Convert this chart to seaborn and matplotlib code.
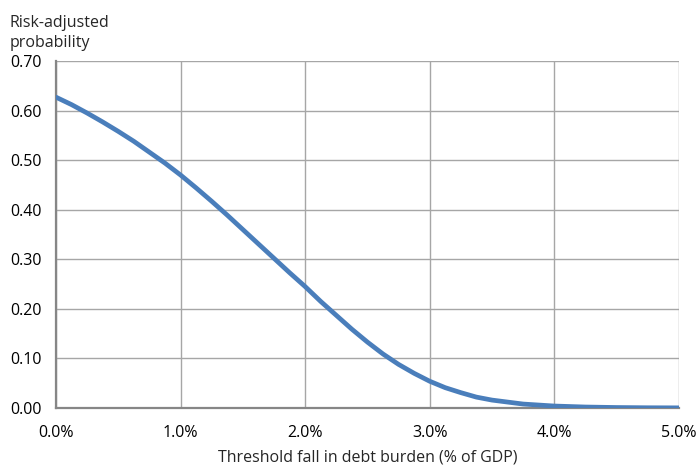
import numpy as np
import pandas as pd
import seaborn as sns
from matplotlib import pyplot as plt
from matplotlib.ticker import FuncFormatter

# threshold fall in debt burden (% of GDP) and risk-adjusted probability
threshold = [0.000, 0.125, 0.250, 0.375, 0.500, 0.625, 0.750, 0.875, 1.000,
             1.125, 1.250, 1.375, 1.500, 1.625, 1.750, 1.875, 2.000,
             2.125, 2.250, 2.375, 2.500, 2.625, 2.750, 2.875, 3.000,
             3.125, 3.250, 3.375, 3.500, 3.750, 4.000, 4.250, 4.500, 4.750, 5.000]
probability = [0.627, 0.612, 0.595, 0.577, 0.558, 0.538, 0.516, 0.494, 0.470,
               0.444, 0.417, 0.389, 0.360, 0.331, 0.302, 0.273, 0.245,
               0.215, 0.187, 0.159, 0.133, 0.109, 0.088, 0.070, 0.054,
               0.041, 0.031, 0.022, 0.016, 0.008, 0.004, 0.002, 0.001, 0.0005, 0.0003]
x_ticks = [0, 1, 2, 3, 4, 5]
y_ticks = [0.0, 0.1, 0.2, 0.3, 0.4, 0.5, 0.6, 0.7]

df = pd.DataFrame({'threshold': threshold, 'probability': probability})

sns.set_style('white')
plt.rcParams['font.family'] = ['Open Sans', 'DejaVu Sans']

fig = plt.figure(figsize=(6.97, 4.67), dpi=100)
ax = fig.add_axes([0.0803, 0.1263, 0.8937, 0.7431])

sns.lineplot(data=df, x='threshold', y='probability', ax=ax,
             color='#4a7ebb', linewidth=3.4, zorder=3)
ax.lines[0].set_solid_joinstyle('round')

ax.set_xlim(0, 5)
ax.set_ylim(0, 0.7)
ax.set_xticks(x_ticks)
ax.set_yticks(y_ticks)
ax.xaxis.set_major_formatter(FuncFormatter(lambda v, _: f'{v:.1f}%'))
ax.yaxis.set_major_formatter(FuncFormatter(lambda v, _: f'{v:.2f}'))

ax.grid(True, color='#a6a6a6', linewidth=1.0)
ax.set_axisbelow(True)
for side in ['top', 'right']:
    ax.spines[side].set_visible(False)
for side in ['left', 'bottom']:
    ax.spines[side].set_color('#868686')
    ax.spines[side].set_linewidth(1.6)

ax.tick_params(axis='both', direction='out', length=5, width=1.2,
               color='#868686', labelsize=11.5, labelcolor='black')
ax.tick_params(axis='x', pad=7)
ax.tick_params(axis='y', pad=5)

ax.set_xlabel('Threshold fall in debt burden (% of GDP)', fontsize=11.5, labelpad=6)
ax.set_ylabel('')
fig.text(0.014, 0.968, 'Risk-adjusted\nprobability', ha='left', va='top',
         fontsize=11.5, linespacing=1.3)

fig.savefig('out.png', dpi=100)
